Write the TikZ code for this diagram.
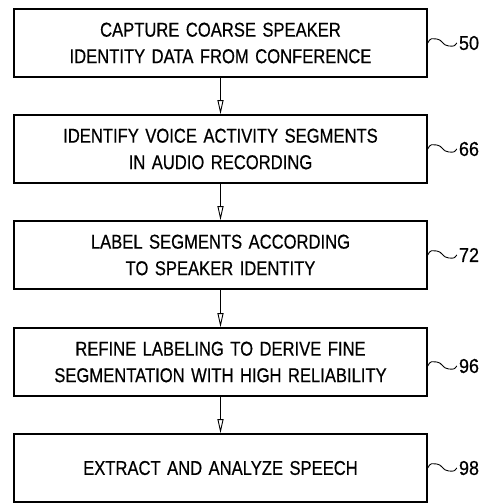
\documentclass[tikz,border=0pt]{standalone}
\usepackage{fontspec}
\setmainfont[FakeStretch=0.83,FakeBold=0.5,WordSpace=1.4]{Liberation Sans}
\newfontfamily\numfont[FakeStretch=0.9,FakeBold=0.5]{Liberation Sans}
\usetikzlibrary{arrows.meta}

\tikzset{
  stepbox/.style={draw, line width=1.6pt, minimum width=413pt, minimum height=68pt,
    inner sep=0pt, align=center, font=\fontsize{20}{26.5}\selectfont},
  flow/.style={-{Triangle[open, length=14pt, width=6pt]}, line width=0.9pt},
  refnum/.style={anchor=west, inner sep=0pt, font=\numfont\fontsize{20}{20}\selectfont},
}

% wavy leader from a box to its reference numeral
\newcommand\leader[2]{%
  \draw[line width=0.9pt] (#1) .. controls +(3,-6) and +(-5,0) .. ++(9,-4)
    .. controls +(5,0) and +(-6,0) .. ++(12,7)
    .. controls +(5,0) and +(-3,4) .. ++(8,-3) coordinate (#2-end);
  \node[refnum] (n#2) at ([xshift=2pt]#2-end) {#2};}

\begin{document}
\begin{tikzpicture}[x=1pt,y=1pt,yscale=-1]
\useasboundingbox (0,0) rectangle (482,503);

% Process steps
\node[stepbox] (capture) at (220.5,43) {CAPTURE COARSE SPEAKER\\IDENTITY DATA FROM CONFERENCE};
\node[stepbox] (identify) at (220.5,149) {IDENTIFY VOICE ACTIVITY SEGMENTS\\IN AUDIO RECORDING};
\node[stepbox] (label) at (220.5,255) {LABEL SEGMENTS ACCORDING\\TO SPEAKER IDENTITY};
\node[stepbox] (refine) at (220.5,362) {REFINE LABELING TO DERIVE FINE\\SEGMENTATION WITH HIGH RELIABILITY};
\node[stepbox] (extract) at (220.5,468) {EXTRACT AND ANALYZE SPEECH};

% Flow arrows
\draw[flow] (capture) -- (identify);
\draw[flow] (identify) -- (label);
\draw[flow] (label) -- (refine);
\draw[flow] (refine) -- (extract);

% Reference numerals
\leader{capture.east}{50}
\leader{identify.east}{66}
\leader{label.east}{72}
\leader{[yshift=4pt]refine.east}{96}
\leader{extract.east}{98}
\end{tikzpicture}
\end{document}
